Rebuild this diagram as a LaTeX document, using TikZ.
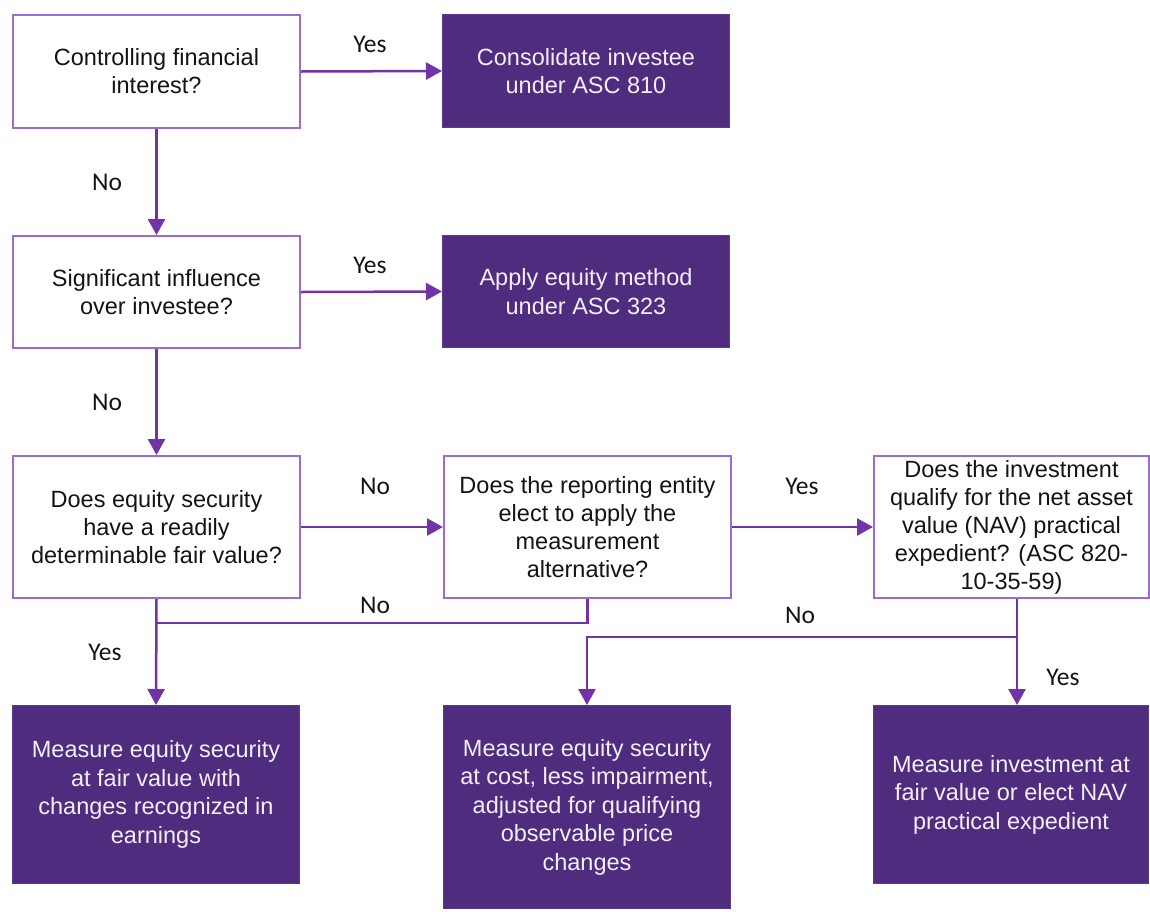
\documentclass[tikz,border=0pt]{standalone}
\usepackage{fontspec}
\setmainfont{Liberation Sans}
\newfontfamily\lblfont{Carlito}
\usetikzlibrary{arrows.meta}
\definecolor{gtpurple}{HTML}{4F2C7E}
\definecolor{gtborder}{HTML}{9A6BD0}
\definecolor{gtline}{HTML}{7232A8}
\definecolor{gttext}{HTML}{141414}
\definecolor{gtwhite}{HTML}{F4EEFA}
\begin{document}
\begin{tikzpicture}[x=1pt,y=-1pt,
  qbox/.style={draw=gtborder, line width=2pt, fill=white, text=gttext, anchor=north west,
    align=center, inner sep=0pt, font=\fontsize{23.5}{28}\selectfont},
  abox/.style={draw=gtpurple!80!gtborder, line width=1pt, fill=gtpurple, text=gtwhite, anchor=north west,
    align=center, inner sep=0pt, font=\fontsize{23.5}{28.5}\selectfont},
  conn/.style={draw=gtline, line width=2.5pt, -{Triangle[width=17pt,length=16pt]}},
  plainline/.style={draw=gtline, line width=2.5pt},
  lbl/.style={font=\lblfont\fontsize{25.5}{30}\selectfont, text=gttext}]
\useasboundingbox (0,0) rectangle (1150,911);
\fill[white] (0,0) rectangle (1150,911);

\node[qbox, minimum width=287, minimum height=113] (A) at (12,14) {Controlling financial\\interest?};
\node[abox, minimum width=287, minimum height=113] (B) at (442,14) {Consolidate investee\\under ASC 810};
\node[qbox, minimum width=287, minimum height=112] (C) at (12,235) {Significant influence\\over investee?};
\node[abox, minimum width=287, minimum height=112] (D) at (442,235) {Apply equity method\\under ASC 323};
\node[qbox, minimum width=287, minimum height=142] (E) at (12,455) {Does equity security\\have a readily\\determinable fair value?};
\node[qbox, minimum width=287, minimum height=142] (F) at (443,455) {Does the reporting entity\\elect to apply the\\measurement\\alternative?};
\node[qbox, minimum width=275, minimum height=142] (G) at (873,455) {Does the investment\\qualify for the net asset\\value (NAV) practical\\expedient? (ASC 820-\\10-35-59)};
\node[abox, minimum width=287, minimum height=178] (H) at (12,705) {Measure equity security\\at fair value with\\changes recognized in\\earnings};
\node[abox, minimum width=287, minimum height=203] (I) at (443,705) {Measure equity security\\at cost, less impairment,\\adjusted for qualifying\\observable price\\changes};
\node[abox, minimum width=275, minimum height=178] (J) at (873,705) {Measure investment at\\fair value or elect NAV\\practical expedient};

\coordinate (j1) at (155.5,623);
\coordinate (gx) at (1017,637);

\draw[conn] (A.east) -- (B.west);
\draw[conn] (A.south) -- (C.north);
\draw[conn] (C.east) -- (D.west);
\draw[conn] (C.south) -- (E.north);
\draw[conn] (E.east) -- (F.west);
\draw[conn] (F.east) -- (G.west);
\draw[conn] (E.south) -- (H.north);
\draw[plainline] (F.south) |- (j1);
\draw[conn] (G.south -| gx) -- (J.north -| gx);
\draw[conn] (gx) -| (I.north);

\node[lbl] (l1) at (370,44) {Yes};
\node[lbl] (l2) at (107,182) {No};
\node[lbl] (l3) at (370,265) {Yes};
\node[lbl] (l4) at (107,402) {No};
\node[lbl] (l5) at (375,486) {No};
\node[lbl] (l6) at (802,486) {Yes};
\node[lbl] (l7) at (375,605) {No};
\node[lbl] (l8) at (800,615) {No};
\node[lbl] (l9) at (105,652) {Yes};
\node[lbl] (l10) at (1063,677) {Yes};
\end{tikzpicture}
\end{document}
